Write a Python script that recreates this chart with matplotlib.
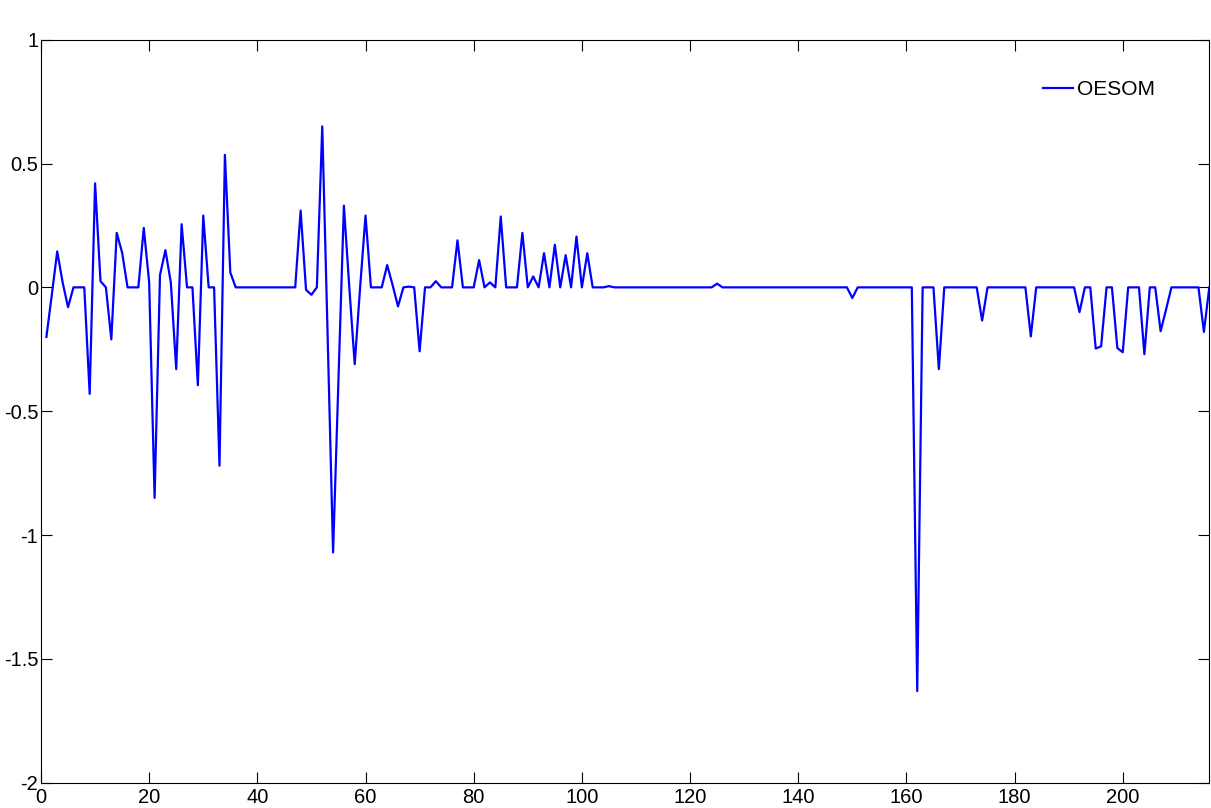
import matplotlib
matplotlib.use("Agg")
import matplotlib.pyplot as plt
import numpy as np

plt.rcParams['font.family'] = ['Liberation Sans', 'DejaVu Sans']
plt.rcParams['axes.unicode_minus'] = False

# Data (index 1..216)
x_values = list(range(1, 217))
oesom = [
    -0.20, -0.03, 0.145, 0.02, -0.08, 0.0, 0.0, 0.0, -0.43, 0.42,      # 1-10
    0.025, 0.0, -0.21, 0.22, 0.14, 0.0, 0.0, 0.0, 0.24, 0.02,          # 11-20
    -0.85, 0.05, 0.15, 0.02, -0.33, 0.255, 0.0, 0.0, -0.395, 0.29,     # 21-30
    0.0, 0.0, -0.72, 0.535, 0.06, 0.0, 0.0, 0.0, 0.0, 0.0,             # 31-40
    0.0, 0.0, 0.0, 0.0, 0.0, 0.0, 0.0, 0.31, -0.01, -0.03,             # 41-50
    0.0, 0.65, -0.2, -1.07, -0.37, 0.33, 0.0, -0.31, 0.0, 0.29,        # 51-60
    0.0, 0.0, 0.0, 0.09, 0.01, -0.077, 0.0, 0.003, 0.0, -0.258,        # 61-70
    0.0, 0.0, 0.025, 0.0, 0.0, 0.0, 0.19, 0.0, 0.0, 0.0,               # 71-80
    0.11, 0.0, 0.02, 0.0, 0.286, 0.0, 0.0, 0.0, 0.22, 0.0,             # 81-90
    0.044, 0.0, 0.138, 0.0, 0.172, 0.0, 0.13, 0.0, 0.205, 0.0,         # 91-100
    0.138, 0.0, 0.0, 0.0, 0.005, 0.0, 0.0, 0.0, 0.0, 0.0,              # 101-110
    0.0, 0.0, 0.0, 0.0, 0.0, 0.0, 0.0, 0.0, 0.0, 0.0,                  # 111-120
    0.0, 0.0, 0.0, 0.0, 0.015, 0.0, 0.0, 0.0, 0.0, 0.0,                # 121-130
    0.0, 0.0, 0.0, 0.0, 0.0, 0.0, 0.0, 0.0, 0.0, 0.0,                  # 131-140
    0.0, 0.0, 0.0, 0.0, 0.0, 0.0, 0.0, 0.0, 0.0, -0.043,               # 141-150
    0.0, 0.0, 0.0, 0.0, 0.0, 0.0, 0.0, 0.0, 0.0, 0.0,                  # 151-160
    0.0, -1.63, 0.0, 0.0, 0.0, -0.33, 0.0, 0.0, 0.0, 0.0,              # 161-170
    0.0, 0.0, 0.0, -0.134, 0.0, 0.0, 0.0, 0.0, 0.0, 0.0,               # 171-180
    0.0, 0.0, -0.198, 0.0, 0.0, 0.0, 0.0, 0.0, 0.0, 0.0,               # 181-190
    0.0, -0.10, 0.0, 0.0, -0.247, -0.238, 0.0, 0.0, -0.245, -0.262,    # 191-200
    0.0, 0.0, 0.0, -0.27, 0.0, 0.0, -0.177, -0.09, 0.0, 0.0,           # 201-210
    0.0, 0.0, 0.0, 0.0, -0.18, 0.0,                                    # 211-216
]
series_label = "OESOM"
x_ticks = [0, 20, 40, 60, 80, 100, 120, 140, 160, 180, 200]
y_ticks = [-2, -1.5, -1, -0.5, 0, 0.5, 1]
y_tick_labels = ["-2", "-1.5", "-1", "-0.5", "0", "0.5", "1"]

W, H = 1211, 808
fig = plt.figure(figsize=(W / 100, H / 100), dpi=100)
ax = fig.add_axes([41 / W, (H - 782.7) / H, (1209.3 - 41) / W, (782.7 - 39.7) / H])

ax.plot(x_values, oesom, color=(0, 0, 1), linewidth=1.6, label=series_label)

ax.set_xlim(0, 216)
ax.set_ylim(-2, 1)
ax.set_xticks(x_ticks)
ax.set_xticklabels([str(t) for t in x_ticks])
ax.set_yticks(y_ticks)
ax.set_yticklabels(y_tick_labels)
ax.tick_params(direction='in', top=True, right=True, length=8, width=0.8,
               labelsize=14.5, colors='black')
ax.tick_params(axis='x', pad=4)
ax.tick_params(axis='y', pad=2)
for s in ax.spines.values():
    s.set_linewidth(0.8)

leg = ax.legend(loc='center left', bbox_to_anchor=(1043 / W, (H - 89.3) / H),
                bbox_transform=fig.transFigure, frameon=False, fontsize=15,
                handlelength=1.45, handletextpad=0.2, borderpad=0,
                borderaxespad=0)

fig.savefig("out.png", dpi=100)
